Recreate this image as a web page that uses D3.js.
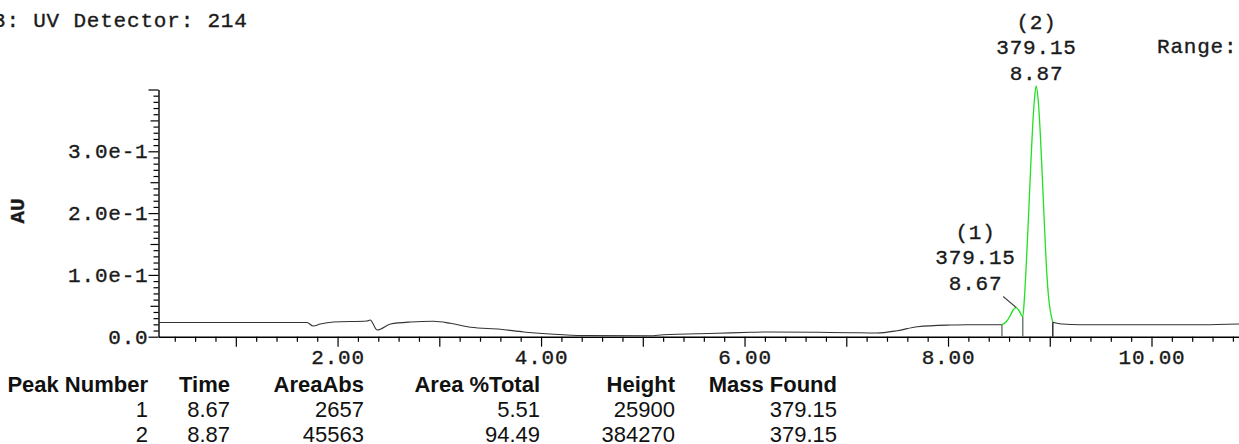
<!DOCTYPE html>
<html>
<head>
<meta charset="utf-8">
<script src="https://cdn.jsdelivr.net/npm/d3@7/dist/d3.min.js"></script>
<style>
  html, body { margin: 0; padding: 0; background: #fff; overflow: hidden; }
  svg { display: block; }
  .mono { font-family: "Liberation Mono", "Courier New", monospace; fill: #1a1a1a; stroke: #1a1a1a; stroke-width: 0.35px; letter-spacing: 0.8px; }
  .tbl { font-family: "Liberation Sans", Arial, sans-serif; fill: #111; }
</style>
</head>
<body>
<svg id="chart" width="1239" height="444"></svg>
<script>
// ---------------- data ----------------
const titleText = "3: UV Detector: 214";
const rangeText = "Range:";
const yAxisLabel = "AU";

// chromatogram trace: time (min) and absorbance (AU)
const traceTime = [0.24, 1.70, 1.76, 1.83, 1.96, 2.29, 2.32, 2.39, 2.52, 2.72, 2.94, 3.11, 3.31, 3.60, 3.83, 4.09, 4.42, 5.07, 5.20, 5.73, 6.06, 6.22, 6.72, 7.04, 7.30, 7.50, 7.70, 8.02, 8.19,
  8.53, 8.57, 8.61, 8.64, 8.67, 8.70, 8.735, 8.75, 8.77, 8.79, 8.81, 8.83, 8.85, 8.866, 8.885, 8.905, 8.925, 8.945, 8.965, 8.985, 9.005, 9.02, 9.03,
  9.05, 9.12, 9.30, 10.00, 10.50, 10.86];
const traceAU = [0.0230, 0.0230, 0.0173, 0.0205, 0.0238, 0.0254, 0.0270, 0.0108, 0.0205, 0.0238, 0.0249, 0.0217, 0.0152, 0.0120, 0.0076, 0.0044, 0.0019, 0.0016, 0.0032, 0.0055, 0.0071, 0.0076, 0.0071, 0.0065, 0.0060, 0.0097, 0.0162, 0.0189, 0.0194,
  0.0194, 0.0238, 0.0335, 0.0432, 0.0472, 0.0416, 0.0324, 0.060, 0.120, 0.190, 0.265, 0.335, 0.385, 0.406, 0.385, 0.335, 0.265, 0.190, 0.120, 0.070, 0.042, 0.030, 0.0235,
  0.0227, 0.0205, 0.0194, 0.0194, 0.0194, 0.0205];

// integration limits (start, valley, end)
const integrationLimits = [8.53, 8.735, 9.03];

// peak labels
const peakNumbers = ["(1)", "(2)"];
const peakTimes = [8.67, 8.866];
const peakTimeLabels = ["8.67", "8.87"];
const peakMasses = ["379.15", "379.15"];

// axis ticks
const xMajorTicks = [1, 2, 3, 4, 5, 6, 7, 8, 9, 10];
const xLabelTicks = [2, 4, 6, 8, 10];
const xTickLabels = ["2.00", "4.00", "6.00", "8.00", "10.00"];
const yMajorTicks = [0, 0.1, 0.2, 0.3, 0.4];
const yLabelTicks = [0, 0.1, 0.2, 0.3];
const yTickLabels = ["0.0", "1.0e-1", "2.0e-1", "3.0e-1"];

// peak table
const tableHeaders = ["Peak Number", "Time", "AreaAbs", "Area %Total", "Height", "Mass Found"];
const tableRows = [
  ["1", "8.67", "2657", "5.51", "25900", "379.15"],
  ["2", "8.87", "45563", "94.49", "384270", "379.15"]
];

// ---------------- drawing ----------------
const svg = d3.select("#chart");
const x = d3.scaleLinear().domain([0.24, 10.86]).range([158.5, 1239]);
const y = d3.scaleLinear().domain([0, 0.40]).range([336.7, 89.5]);

const monoSize = 21;

// title + range
svg.append("text").attr("class", "mono").attr("x", -7).attr("y", 27)
  .style("font-size", monoSize + "px").text(titleText);
svg.append("text").attr("class", "mono").attr("x", 1157).attr("y", 53)
  .style("font-size", monoSize + "px").text(rangeText);

// x axis: minor ticks every 0.2
const xMinor = d3.range(0.4, 10.9, 0.2).map(v => +v.toFixed(2)).filter(v => Math.abs(v - Math.round(v)) > 1e-6);
const xAxisMinor = d3.axisBottom(x).tickValues(xMinor).tickSize(5).tickSizeOuter(0).tickFormat("");
const gxm = svg.append("g").attr("transform", `translate(0,${y(0)})`).call(xAxisMinor);
gxm.select(".domain").remove();
const xAxisMajor = d3.axisBottom(x).tickValues(xMajorTicks).tickSize(10).tickSizeOuter(0)
  .tickFormat(d => { const i = xLabelTicks.indexOf(d); return i >= 0 ? xTickLabels[i] : ""; });
const gx = svg.append("g").attr("transform", `translate(0,${y(0)})`).call(xAxisMajor);
gx.select(".domain").attr("stroke", "#000").attr("stroke-width", 1.4);
gx.selectAll(".tick text").attr("class", "mono").attr("y", 0).attr("dy", 0)
  .attr("transform", "translate(0,27)")
  .style("font-size", monoSize + "px").attr("font-family", null);
[gx, gxm].forEach(g => g.selectAll(".tick line").attr("stroke", "#000").attr("stroke-width", 1.2));

// y axis
const yMinor = d3.range(0.01, 0.4, 0.01).map(v => +v.toFixed(2)).filter(v => Math.abs(v * 20 - Math.round(v * 20)) > 1e-6);
const yMid = [0.05, 0.15, 0.25, 0.35];
const gym = svg.append("g").attr("transform", `translate(${x.range()[0]},0)`)
  .call(d3.axisLeft(y).tickValues(yMinor).tickSize(5).tickSizeOuter(0).tickFormat(""));
gym.select(".domain").remove();
const gymid = svg.append("g").attr("transform", `translate(${x.range()[0]},0)`)
  .call(d3.axisLeft(y).tickValues(yMid).tickSize(8).tickSizeOuter(0).tickFormat(""));
gymid.select(".domain").remove();
const gy = svg.append("g").attr("transform", `translate(${x.range()[0]},0)`)
  .call(d3.axisLeft(y).tickValues(yMajorTicks).tickSize(10).tickSizeOuter(0)
    .tickFormat(d => { const i = yLabelTicks.indexOf(d); return i >= 0 ? yTickLabels[i] : ""; }));
gy.select(".domain").attr("stroke", "#000").attr("stroke-width", 1.4);
gy.selectAll(".tick text").attr("class", "mono").attr("x", -10).attr("dy", "0.3em")
  .style("font-size", monoSize + "px").attr("font-family", null);
[gy, gym, gymid].forEach(g => g.selectAll(".tick line").attr("stroke", "#000").attr("stroke-width", 1.2));

// y label
svg.append("text").attr("class", "mono")
  .attr("transform", "translate(24,211) rotate(-90)")
  .attr("text-anchor", "middle")
  .style("font-size", "21px").style("font-weight", "bold").style("letter-spacing", "0px").text(yAxisLabel);

// trace
const pts = traceTime.map((t, i) => [t, traceAU[i]]);
const line = d3.line().x(d => x(d[0])).y(d => y(d[1])).curve(d3.curveMonotoneX);
const [tStart, tValley, tEnd] = integrationLimits;
const before = pts.filter(d => d[0] <= tStart + 1e-9);
const peak = pts.filter(d => d[0] >= tStart - 1e-9 && d[0] <= tEnd + 1e-9);
const after = pts.filter(d => d[0] >= tEnd - 1e-9);
svg.append("path").attr("d", line(before)).attr("fill", "none").attr("stroke", "#333").attr("stroke-width", 1.1);
svg.append("path").attr("d", line(after)).attr("fill", "none").attr("stroke", "#333").attr("stroke-width", 1.1);

// integration drop lines
function valueAt(t) {
  const i = d3.bisector(d => d[0]).left(pts, t);
  if (i <= 0) return pts[0][1];
  if (i >= pts.length) return pts[pts.length - 1][1];
  const a = pts[i - 1], b = pts[i];
  return a[1] + (b[1] - a[1]) * (t - a[0]) / (b[0] - a[0]);
}
const dropColors = ["#5d6b5d", "#5d6b5d", "#111"];
integrationLimits.forEach((t, i) => {
  svg.append("line").attr("x1", x(t)).attr("x2", x(t))
    .attr("y1", y(valueAt(t))).attr("y2", y(0))
    .attr("stroke", dropColors[i]).attr("stroke-width", 1.3);
});

svg.append("path").attr("d", line(peak)).attr("fill", "none").attr("stroke", "#22e022").attr("stroke-width", 1.3);

// peak labels
peakTimes.forEach((t, i) => {
  const px = x(t), py = y(valueAt(t));
  let cx = px, base = py - 6;
  if (i === 0) {
    cx = px - 41; base = py - 18;
    svg.append("line").attr("x1", px - 13).attr("y1", py - 11).attr("x2", px).attr("y2", py)
      .attr("stroke", "#444").attr("stroke-width", 1.1);
  }
  const lines = [peakNumbers[i], peakMasses[i], peakTimeLabels[i]];
  lines.forEach((s, j) => {
    svg.append("text").attr("class", "mono").attr("x", cx + 0.4).attr("y", base - (2 - j) * 25.5)
      .attr("text-anchor", "middle").style("font-size", monoSize + "px").text(s);
  });
});

// table
const colRight = [148, 230, 364, 540, 675, 837];
const rowBase = [392, 417, 442];
tableHeaders.forEach((h, c) => {
  svg.append("text").attr("class", "tbl").attr("x", colRight[c]).attr("y", rowBase[0])
    .attr("text-anchor", "end").style("font-size", "22px").style("font-weight", "bold").text(h);
});
tableRows.forEach((row, r) => {
  row.forEach((v, c) => {
    svg.append("text").attr("class", "tbl").attr("x", colRight[c]).attr("y", rowBase[r + 1])
      .attr("text-anchor", "end").style("font-size", "22px").text(v);
  });
});
</script>
</body>
</html>
